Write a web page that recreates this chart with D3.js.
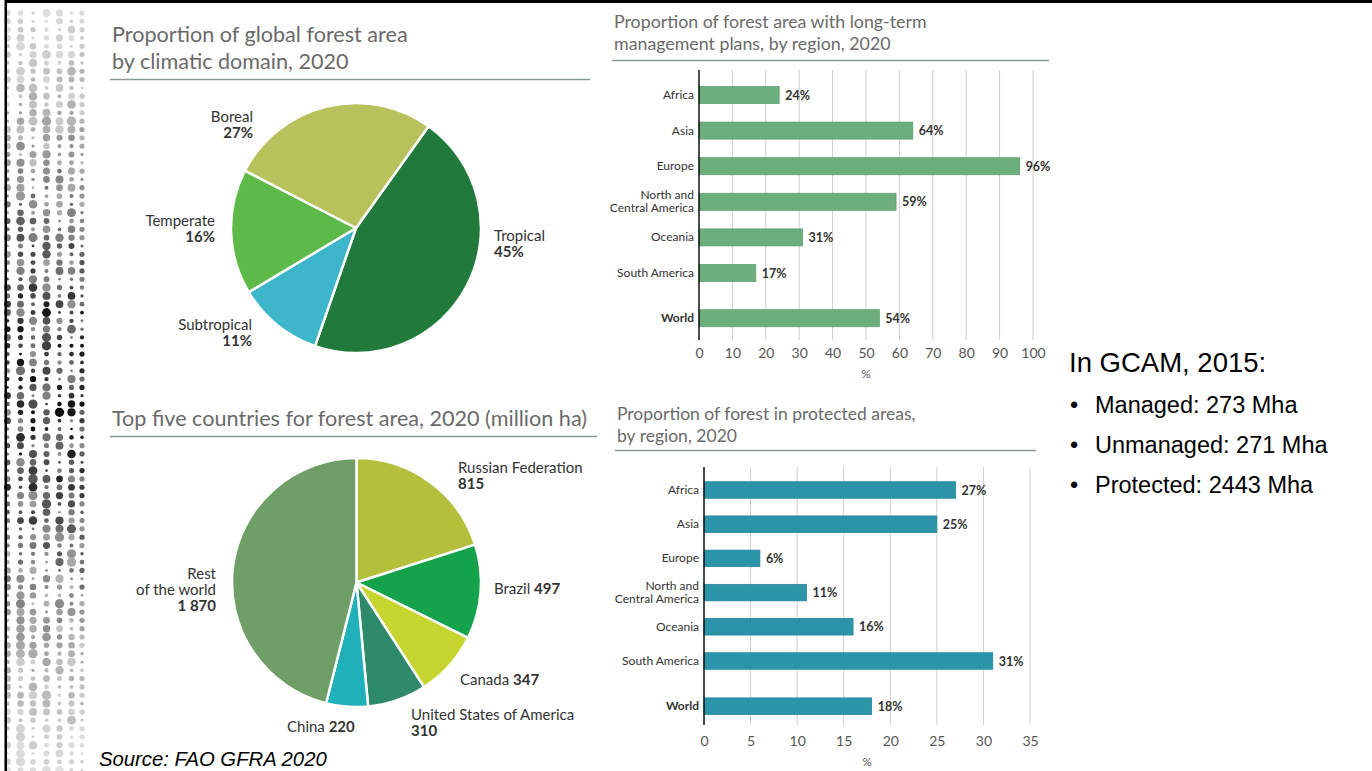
<!DOCTYPE html>
<html><head><meta charset="utf-8">
<script src="https://cdn.jsdelivr.net/npm/d3@7"></script>
<style>body{margin:0;background:#fff;overflow:hidden} svg{display:block}</style>
</head><body>
<svg id="c" width="1372" height="771"></svg>
<script>
// ---------------- data ----------------
const climateDomains = ["Tropical", "Subtropical", "Temperate", "Boreal"];
const climateShares = [45, 11, 16, 27];
const countryNames = ["Russian Federation", "Brazil", "Canada", "United States of America", "China", "Rest of the world"];
const countryAreas = [815, 497, 347, 310, 220, 1870];
const regionNames = ["Africa", "Asia", "Europe", "North and Central America", "Oceania", "South America", "World"];
const mgmtPlanPct = [24, 64, 96, 59, 31, 17, 54];
const protectedPct = [27, 25, 6, 11, 16, 31, 18];
const mgmtTicks = [0, 10, 20, 30, 40, 50, 60, 70, 80, 90, 100];
const protectedTicks = [0, 5, 10, 15, 20, 25, 30, 35];
const gcamTitle = "In GCAM, 2015:";
const gcamLines = ["Managed: 273 Mha", "Unmanaged: 271 Mha", "Protected: 2443 Mha"];
const sourceText = "Source: FAO GFRA 2020";

// ---------------- styles ----------------
const climateColors = ["#217a3c", "#3db6cc", "#5dba48", "#b7c25c"];
const countryColors = ["#b4bf3c", "#14a34b", "#c6d52f", "#2f8a6c", "#20b0ba", "#6f9e66"];
const FONT = "Lato, 'Open Sans', sans-serif";
const svg = d3.select("#c");
const fmt = d3.formatLocale({decimal: ".", thousands: " ", grouping: [3], currency: ["", ""]}).format(",d");

// ---------------- frame & decoration (halftone dots, not data) ----------------
(function dots() {
  const g = svg.append("g");
  const cols = [7.5, 20.5, 33, 46.5, 59.5, 71.5, 82];
  function hash(a, b, s) { const v = Math.sin(a * 127.1 + b * 311.7 + s * 74.7) * 43758.5453; return v - Math.floor(v); }
  for (let r = 0; r < 92; r++) {
    const y = 13 + r * 8.32;
    const env = Math.exp(-Math.pow((y - 385) / 265, 2));
    cols.forEach((x, c) => {
      const h1 = hash(c, r, 1), h2 = hash(c, r, 2);
      let rad = 1.3 + 3.4 * h1;
      const lum = 238 - 232 * env * (0.4 + 0.6 * h2);
      if (c === 6) rad = Math.min(rad, 2.6);
      if (c === 0) rad = Math.min(rad, 3.4);
      g.append("circle").attr("cx", x).attr("cy", y).attr("r", rad)
        .attr("fill", d3.rgb(lum, lum, lum));
    });
  }
})();
svg.append("rect").attr("x", 5).attr("y", 0).attr("width", 1367).attr("height", 3).attr("fill", "#000");
svg.append("rect").attr("x", 4.5).attr("y", 0).attr("width", 2.5).attr("height", 771).attr("fill", "#000");

// ---------------- titles ----------------
function title(lines, x, y0, lh, size, lineX0, lineX1, lineY) {
  const t = svg.append("text").attr("font-family", FONT).attr("font-size", size).attr("fill", "#6a6a6a");
  lines.forEach((l, i) => t.append("tspan").attr("x", x).attr("y", y0 + i * lh).text(l));
  svg.append("line").attr("x1", lineX0).attr("x2", lineX1).attr("y1", lineY).attr("y2", lineY)
    .attr("stroke", "#8c9a96").attr("stroke-width", 1.3);
}
title(["Proportion of global forest area", "by climatic domain, 2020"], 112, 42, 27, 21.6, 110, 590, 79.5);
title(["Top five countries for forest area, 2020 (million ha)"], 112, 426, 0, 21.6, 110, 597, 436.5);
title(["Proportion of forest area with long-term", "management plans, by region, 2020"], 614, 28, 22, 17.8, 612, 1049, 60.5);
title(["Proportion of forest in protected areas,", "by region, 2020"], 617, 420, 22, 17.5, 615, 1036, 450.5);

// ---------------- pies ----------------
function drawPie(names, values, colors, cx, cy, r, startDeg, labelLayout) {
  const pie = d3.pie().sort(null).startAngle(startDeg * Math.PI / 180).endAngle((startDeg + 360) * Math.PI / 180);
  const arc = d3.arc().innerRadius(0).outerRadius(r);
  const g = svg.append("g").attr("transform", `translate(${cx},${cy})`);
  g.selectAll("path").data(pie(values)).join("path")
    .attr("d", arc).attr("fill", (d, i) => colors[i])
    .attr("stroke", "#fff").attr("stroke-width", 2.5).attr("stroke-linejoin", "round");
  const LH = 16;
  labelLayout.forEach((L, i) => {
    const t = g.append("text").attr("font-family", FONT).attr("font-size", 15).attr("fill", "#333")
      .attr("text-anchor", L.anchor);
    const valueText = L.suffix ? fmt(values[i]) + L.suffix : fmt(values[i]);
    L.lines.forEach((ln, k) => {
      t.append("tspan").attr("x", L.dx).attr("y", L.dy + k * LH).text(ln);
    });
    if (L.inline) {
      const last = t.selectAll("tspan").nodes().pop();
      d3.select(last).text(L.lines[L.lines.length - 1] + " ");
      t.append("tspan").attr("font-weight", "bold").text(valueText);
    } else {
      t.append("tspan").attr("x", L.dx).attr("y", L.dy + L.lines.length * LH)
        .attr("font-weight", "bold").text(valueText);
    }
  });
}
drawPie(climateDomains, climateShares, climateColors, 356, 228, 125, 35.5, [
  {lines: ["Tropical"], dx: 138, dy: 13, anchor: "start", suffix: "%"},
  {lines: ["Subtropical"], dx: -104, dy: 102, anchor: "end", suffix: "%"},
  {lines: ["Temperate"], dx: -141, dy: -2, anchor: "end", suffix: "%"},
  {lines: ["Boreal"], dx: -103, dy: -106, anchor: "end", suffix: "%"}
]);
drawPie(countryNames, countryAreas, countryColors, 356.5, 582.5, 124.5, 0, [
  {lines: ["Russian Federation"], dx: 101.5, dy: -110, anchor: "start"},
  {lines: ["Brazil"], dx: 137.5, dy: 11, anchor: "start", inline: true},
  {lines: ["Canada"], dx: 103.5, dy: 102.5, anchor: "start", inline: true},
  {lines: ["United States of America"], dx: 54.5, dy: 137.5, anchor: "start"},
  {lines: ["China"], dx: -69.5, dy: 149.5, anchor: "start", inline: true},
  {lines: ["Rest", "of the world"], dx: -140.5, dy: -3.5, anchor: "end"}
]);

// ---------------- bar charts ----------------
function drawBars(values, ticks, cfg) {
  const x = d3.scaleLinear().domain([ticks[0], ticks[ticks.length - 1]]).range([cfg.x0, cfg.x1]);
  const rowIdx = regionNames.map((d, i) => i + (d === "World" ? cfg.worldGap : 0));
  const y = d3.scaleLinear().domain([0, 1]).range([cfg.y0, cfg.y0 + cfg.step]);
  const g = svg.append("g");
  g.selectAll("line.grid").data(ticks.slice(1)).join("line")
    .attr("x1", d => x(d)).attr("x2", d => x(d)).attr("y1", cfg.gTop).attr("y2", cfg.gBot)
    .attr("stroke", "#cfcfcf").attr("stroke-width", 1);
  const axis = d3.axisBottom(x).tickValues(ticks).tickSize(0).tickPadding(0);
  const ag = g.append("g").attr("transform", `translate(0,${cfg.tickY})`).call(axis);
  ag.select(".domain").remove();
  ag.selectAll("text").attr("font-family", FONT).attr("font-size", 14).attr("fill", "#555").attr("dy", 0);
  g.append("text").attr("x", x((ticks[0] + ticks[ticks.length - 1]) / 2)).attr("y", cfg.tickY + 20)
    .attr("text-anchor", "middle").attr("font-family", FONT).attr("font-size", 11.5).attr("fill", "#555").text("%");
  g.selectAll("rect.bar").data(values).join("rect")
    .attr("x", x(0)).attr("y", (d, i) => y(rowIdx[i]) - cfg.barH / 2)
    .attr("width", d => x(d) - x(0)).attr("height", cfg.barH)
    .attr("fill", cfg.color).attr("stroke", cfg.stroke).attr("stroke-width", 0.8);
  g.append("line").attr("x1", x(0)).attr("x2", x(0)).attr("y1", cfg.gTop).attr("y2", cfg.gBot)
    .attr("stroke", "#111").attr("stroke-width", 1.5);
  g.selectAll("text.val").data(values).join("text")
    .attr("x", d => x(d) + 6).attr("y", (d, i) => y(rowIdx[i]) + 4.5)
    .attr("font-family", FONT).attr("font-size", 12.5).attr("font-weight", "bold").attr("fill", "#333")
    .text(d => d + "%");
  regionNames.forEach((name, i) => {
    const t = g.append("text").attr("text-anchor", "end").attr("font-family", FONT).attr("font-size", 12)
      .attr("fill", "#333").attr("font-weight", name === "World" ? "bold" : "normal");
    const yc = y(rowIdx[i]);
    if (name === "North and Central America") {
      t.append("tspan").attr("x", cfg.x0 - 5).attr("y", yc - 3).text("North and");
      t.append("tspan").attr("x", cfg.x0 - 5).attr("y", yc + 10).text("Central America");
    } else {
      t.append("tspan").attr("x", cfg.x0 - 5).attr("y", yc + 4).text(name);
    }
  });
}
drawBars(mgmtPlanPct, mgmtTicks, {x0: 699, x1: 1033, y0: 95, step: 35.6, worldGap: 0.27, barH: 17,
  gTop: 70, gBot: 340, tickY: 358, color: "#6cae7e", stroke: "#5e9f70"});
drawBars(protectedPct, protectedTicks, {x0: 704, x1: 1030, y0: 490, step: 34.2, worldGap: 0.32, barH: 16.5,
  gTop: 467, gBot: 725, tickY: 746, color: "#2b94a8", stroke: "#24879a"});

// ---------------- GCAM note & source ----------------
const ARIAL = "Arial, 'Liberation Sans', sans-serif";
svg.append("text").attr("x", 1069).attr("y", 372).attr("font-family", ARIAL)
  .attr("font-size", 27.5).attr("fill", "#000").text(gcamTitle);
gcamLines.forEach((s, i) => {
  const yy = 413 + i * 40;
  svg.append("text").attr("x", 1070).attr("y", yy).attr("font-family", ARIAL)
    .attr("font-size", 23.5).attr("fill", "#000").text("•");
  svg.append("text").attr("x", 1095).attr("y", yy).attr("font-family", ARIAL)
    .attr("font-size", 23.5).attr("fill", "#000").text(s);
});
svg.append("text").attr("x", 99).attr("y", 766).attr("font-family", ARIAL)
  .attr("font-size", 20.3).attr("font-style", "italic").attr("fill", "#000").text(sourceText);
</script>
</body></html>
